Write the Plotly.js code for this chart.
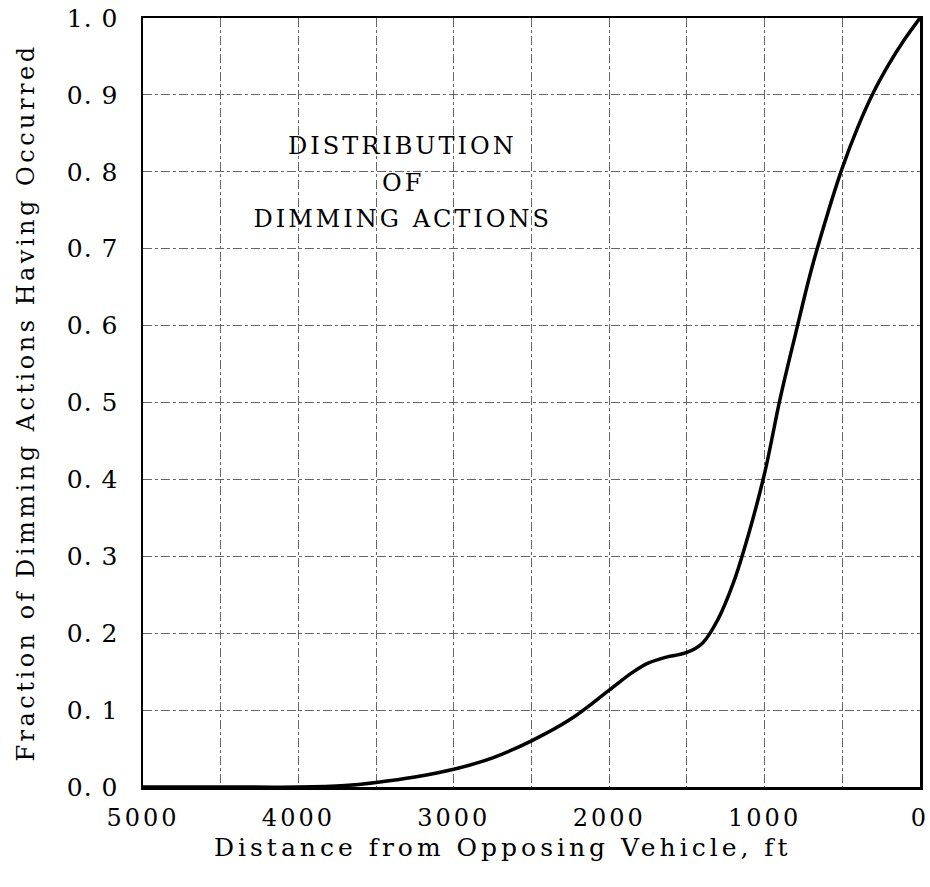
<!DOCTYPE html>
<html>
<head>
<meta charset="utf-8">
<script src="https://cdn.plot.ly/plotly-3.0.1.min.js"></script>
<style>
  html, body { margin: 0; padding: 0; background: #fff; }
  #chart { width: 930px; height: 887px; }
  #chart .main-svg .xtick text { letter-spacing: 3px; }
  #chart .main-svg .ytick text { letter-spacing: 1px; }
  #chart .main-svg .ytitle { letter-spacing: 3.5px; }
  #chart .main-svg .annotation-text { letter-spacing: 3px; }
  #chart .main-svg g.annotation[data-index="0"] .annotation-text { letter-spacing: 4px; }
</style>
</head>
<body>
<div id="chart"></div>
<script>
// Distance from opposing vehicle (ft)
const distance = [5000, 4500, 4000, 3700, 3500, 3250, 3000, 2750, 2500, 2250, 2000, 1850, 1750, 1650, 1500, 1400, 1300, 1200, 1100, 1000, 900, 800, 700, 600, 500, 400, 300, 200, 100, 0];
// Fraction of dimming actions having occurred
const fraction = [0.000, 0.000, 0.000, 0.002, 0.006, 0.013, 0.023, 0.038, 0.060, 0.088, 0.126, 0.149, 0.161, 0.168, 0.175, 0.187, 0.218, 0.266, 0.331, 0.408, 0.505, 0.590, 0.672, 0.742, 0.805, 0.858, 0.903, 0.940, 0.972, 1.000];

const xTickVals = [5000, 4000, 3000, 2000, 1000, 0];
const xTickText = ["5000", "4000", "3000", "2000", "1000", "0"];
const yTickVals = [0, 0.1, 0.2, 0.3, 0.4, 0.5, 0.6, 0.7, 0.8, 0.9, 1.0];
const yTickText = ["0. 0", "0. 1", "0. 2", "0. 3", "0. 4", "0. 5", "0. 6", "0. 7", "0. 8", "0. 9", "1. 0"];

const xTitle = "Distance from Opposing Vehicle, ft";
const yTitle = "Fraction of Dimming Actions Having Occurred";
const labelLines = ["DISTRIBUTION", "OF", "DIMMING ACTIONS"];
const labelX = 3330;
const labelY = [0.833, 0.785, 0.738];

const FONT = "DejaVu Serif, serif";
const gridStyle = { color: "#666", width: 1, dash: "dashdot" };

const trace = {
  x: distance,
  y: fraction,
  type: "scatter",
  mode: "lines",
  line: { color: "#000", width: 3.5, shape: "spline", smoothing: 1 },
  hoverinfo: "skip",
  showlegend: false
};

const xTitleAnnotation = {
  xref: "paper",
  yref: "paper",
  x: 0.463,
  y: -0.079,
  text: xTitle,
  showarrow: false,
  xanchor: "center",
  yanchor: "middle",
  font: { family: FONT, size: 25, color: "#000" }
};

const layout = {
  width: 930,
  height: 887,
  paper_bgcolor: "#fff",
  plot_bgcolor: "#fff",
  margin: { l: 143, r: 10, t: 18, b: 100 },
  font: { family: FONT, color: "#000", size: 22 },
  xaxis: {
    range: [5000, 0],
    tickvals: xTickVals,
    ticktext: xTickText,
    ticks: "",
    ticklabelstandoff: 8,
    tickfont: { family: FONT, size: 24, color: "#000" },
    showgrid: true,
    gridcolor: gridStyle.color,
    gridwidth: gridStyle.width,
    griddash: gridStyle.dash,
    minor: { dtick: 500, tick0: 0, showgrid: true, gridcolor: gridStyle.color, gridwidth: gridStyle.width, griddash: gridStyle.dash, ticks: "" },
    showline: true,
    linecolor: "#000",
    linewidth: 2.5,
    mirror: true,
    zeroline: false
  },
  yaxis: {
    range: [0, 1],
    tickvals: yTickVals,
    ticktext: yTickText,
    ticks: "",
    ticklabelstandoff: 17,
    tickfont: { family: FONT, size: 25, color: "#000" },
    showgrid: true,
    gridcolor: gridStyle.color,
    gridwidth: gridStyle.width,
    griddash: gridStyle.dash,
    showline: true,
    linecolor: "#000",
    linewidth: 2.5,
    mirror: true,
    zeroline: false,
    title: { text: yTitle, font: { family: FONT, size: 24, color: "#000" }, standoff: 30 }
  },
  annotations: [xTitleAnnotation].concat(labelLines.map((t, i) => ({
    x: labelX,
    y: labelY[i],
    xref: "x",
    yref: "y",
    text: t,
    showarrow: false,
    xanchor: "center",
    yanchor: "middle",
    font: { family: FONT, size: 24, color: "#000" }
  })))
};

Plotly.newPlot("chart", [trace], layout, { displayModeBar: false, staticPlot: true });
</script>
</body>
</html>
